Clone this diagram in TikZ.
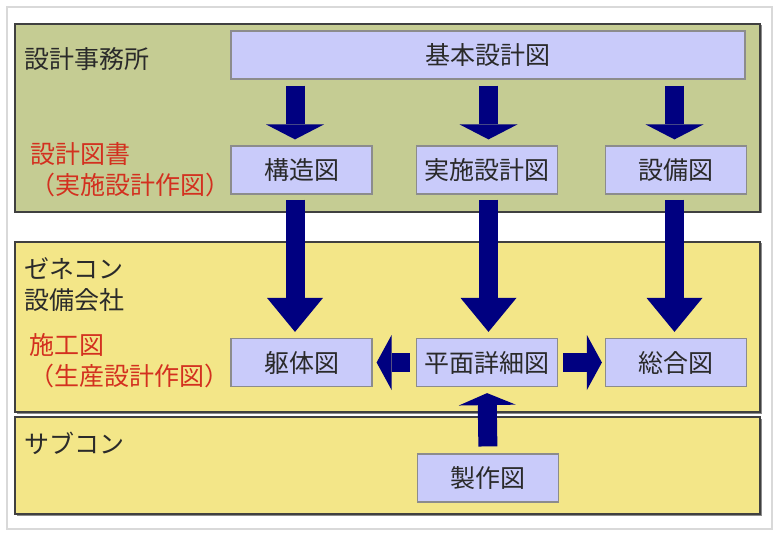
\documentclass[tikz,border=0pt]{standalone}
\usepackage{fontspec}
\setmainfont{Noto Sans CJK JP}
\usepackage{xcolor}
\usetikzlibrary{arrows.meta, positioning, calc, shadows}
\definecolor{officegreen}{HTML}{C5CC93}
\definecolor{gcyellow}{HTML}{F3E688}
\definecolor{drawblue}{HTML}{C9CBFA}
\definecolor{flownavy}{HTML}{000080}
\definecolor{labelred}{HTML}{D3301F}
\definecolor{textgray}{HTML}{2A2A2A}

\begin{document}
\begin{tikzpicture}[
		x=1pt, y=-1pt,
		font=\fontsize{25}{31}\selectfont,
		group/.style={draw=black!75, line width=1.2pt, drop shadow={shadow xshift=1.5pt, shadow yshift=-1.5pt, fill=black!45, opacity=1}},
		drawing/.style={rectangle, draw=black!45, line width=1.2pt, fill=drawblue, text=textgray, minimum height=48pt, minimum width=141pt, inner sep=0pt},
		who/.style={anchor=west, text=textgray, align=left, inner sep=0pt},
		kind/.style={anchor=west, text=labelred, align=left, inner sep=0pt},
		% block arrows: thick shaft plus a wide filled head
		flow/.style={draw=flownavy, line width=19pt, -{Triangle[length=15pt, width=58pt, line width=0pt]}, shorten <=6pt, shorten >=6pt},
		longflow/.style={flow, -{Triangle[length=34pt, width=56pt, line width=0pt]}}
		]
		
		\useasboundingbox (0,0) rectangle (779,537);
		\draw[black!15, line width=1.5pt] (7,7) rectangle (772,529);
		
		% --- Organisation Bands ---
		\draw[group, fill=officegreen] (15,24) rectangle (760,212);
		\draw[group, fill=gcyellow] (15,242) rectangle (760,412);
		\draw[group, fill=gcyellow] (15,417) rectangle (760,514);
		
		% --- Band Labels ---
		\node[who] (office) at (24,59) {設計事務所};
		\node[kind] (docs) at (30,170) {設計図書\\（実施設計作図）};
		\node[who] (gc) at (24,284.5) {ゼネコン\\設備会社};
		\node[kind] (shopdwg) at (29,361) {施工図\\（生産設計作図）};
		\node[who] (sub) at (24,443) {サブコン};
		
		% --- Drawings ---
		\node[drawing, minimum width=514pt] (kihon) at (488,55) {基本設計図};
		\node[drawing] (kouzou) at (301.5,170) {構造図};
		\node[drawing] (jisshi) at (487,170) {実施設計図};
		\node[drawing] (setsubi) at (676,170) {設備図};
		
		\node[drawing] (kutai) at (301.5,362.5) {躯体図};
		\node[drawing] (heimen) at (487,362.5) {平面詳細図};
		\node[drawing] (sougou) at (676,362.5) {総合図};
		
		\node[drawing] (seisaku) at (488,478) {製作図};
		
		% --- Arrow Columns ---
		\coordinate (col1) at ([xshift=-6.5pt]kouzou.center);
		\coordinate (col2) at ([xshift=1.5pt]jisshi.center);
		\coordinate (col3) at ([xshift=-1.5pt]setsubi.center);
		
		% --- Downward Flow ---
		\draw[flow] (kihon.south -| col1) -- (kouzou.north -| col1);
		\draw[flow] (kihon.south -| col2) -- (jisshi.north -| col2);
		\draw[flow] (kihon.south -| col3) -- (setsubi.north -| col3);
		
		\draw[longflow, shorten <=5pt] (kouzou.south -| col1) -- (kutai.north -| col1);
		\draw[longflow, shorten <=5pt] (jisshi.south -| col2) -- (heimen.north -| col2);
		\draw[longflow, shorten <=5pt] (setsubi.south -| col3) -- (sougou.north -| col3);
		
		% --- Sideways and Upward Flow ---
		\draw[flow, -{Triangle[length=15pt, width=55pt, line width=0pt]}, shorten >=4pt] (heimen.west) -- (kutai.east);
		\draw[flow, -{Triangle[length=15pt, width=55pt, line width=0pt]}, shorten <=5pt, shorten >=3pt] (heimen.east) -- (sougou.west);
		\draw[flow, -{Triangle[length=12pt, width=57pt, line width=0pt]}, shorten <=7pt] (seisaku.north) -- (heimen.south);
		
	\end{tikzpicture}
\end{document}
